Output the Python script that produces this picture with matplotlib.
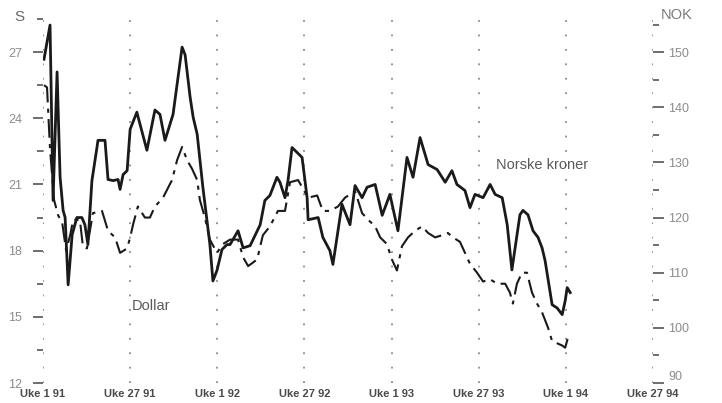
#!/usr/bin/env python3
"""
Dollar (S) vs norske kroner (NOK), weekly, 1991-1994
"""
import matplotlib
matplotlib.use('Agg')
import matplotlib.pyplot as plt

plt.rcParams['font.family'] = ['Liberation Sans Narrow', 'Liberation Sans', 'DejaVu Sans']

# x = weeks since Uke 1 91
week_labels = ['Uke 1 91', 'Uke 27 91', 'Uke 1 92', 'Uke 27 92',
               'Uke 1 93', 'Uke 27 93', 'Uke 1 94', 'Uke 27 94']
week_ticks = [0, 26, 52, 78, 104, 130, 156, 182]

nok_weeks = [0.3, 2.1, 3.0, 4.2, 5.1, 6.0, 6.6, 7.5, 8.7, 10.1, 11.6, 12.5, 13.4,
             14.6, 16.1, 16.4, 18.5, 19.4, 20.9, 22.4, 23.0, 23.9, 25.1, 26.0,
             28.0, 31.0, 33.4, 34.9, 36.4, 38.8, 41.5, 42.4, 43.9, 44.8, 46.0,
             47.7, 49.8, 50.7, 51.9, 53.4, 54.9, 55.8, 58.2, 59.7, 61.8, 64.8,
             66.2, 67.7, 69.8, 70.7, 72.2, 73.1, 74.3, 77.3, 78.8, 79.1, 82.1,
             83.5, 85.6, 86.5, 89.2, 91.6, 93.1, 95.2, 96.7, 99.1, 101.2, 103.5,
             105.9, 108.6, 110.4, 112.5, 114.9, 117.6, 120.0, 122.0, 123.5, 125.9,
             127.4, 128.9, 131.3, 133.4, 134.9, 137.0, 138.5, 139.9, 142.3, 143.2,
             144.7, 146.2, 147.7, 148.9, 149.8, 151.9, 153.4, 154.9, 155.8, 156.4,
             157.3]
nok_values = [148.7, 154.9, 123.1, 146.4, 127.3, 121.3, 120.0, 107.8, 116.9, 120.0,
              120.0, 118.7, 115.1, 126.7, 132.7, 134.0, 134.0, 126.9, 126.7, 126.9,
              125.1, 127.8, 128.5, 136.0, 139.1, 132.2, 139.5, 138.7, 134.0, 138.7,
              150.9, 149.5, 141.8, 138.2, 135.1, 125.5, 115.1, 108.5, 110.4, 114.2,
              115.1, 115.1, 117.6, 114.5, 114.9, 118.7, 123.1, 124.0, 127.3, 126.4,
              123.6, 126.7, 132.7, 130.9, 123.6, 119.6, 120.0, 116.4, 114.0, 111.5,
              122.4, 118.7, 125.8, 123.6, 125.5, 126.0, 120.4, 124.2, 117.6, 130.9,
              127.3, 134.5, 129.6, 128.7, 126.4, 128.5, 126.0, 124.9, 121.8, 124.2,
              123.6, 126.0, 124.2, 123.6, 118.7, 110.5, 120.5, 121.3, 120.5, 117.6,
              116.4, 114.5, 112.2, 104.2, 103.6, 102.4, 104.9, 107.3, 106.4]

usd_weeks = [0.3, 1.2, 2.1, 3.3, 4.5, 5.7, 6.9, 8.1, 9.0, 11.0, 11.9, 13.1, 14.9,
             17.6, 19.4, 21.5, 23.0, 25.1, 26.0, 26.9, 28.3, 30.4, 31.9, 33.4,
             35.8, 38.5, 40.0, 41.5, 43.0, 44.5, 46.0, 46.8, 48.3, 49.8, 51.9,
             53.7, 55.8, 58.2, 59.7, 61.2, 63.9, 65.6, 67.7, 70.1, 72.2, 73.7,
             76.1, 79.1, 81.8, 83.5, 85.6, 88.0, 90.1, 93.1, 95.2, 97.0, 99.1,
             100.6, 102.6, 104.1, 105.6, 107.1, 108.9, 111.0, 113.1, 114.9, 117.0,
             119.1, 120.8, 122.3, 124.4, 126.5, 127.4, 129.5, 131.3, 133.4, 135.5,
             137.9, 139.3, 140.2, 141.4, 142.9, 144.4, 145.9, 147.4, 148.9, 150.7,
             151.9, 153.4, 154.9, 155.8, 156.7]
usd_values = [25.5, 25.4, 22.6, 20.3, 19.6, 19.3, 18.0, 18.7, 19.4, 19.4, 18.2, 18.1,
              19.7, 19.8, 18.9, 18.6, 17.9, 18.1, 18.6, 19.2, 20.0, 19.5, 19.5, 20.0,
              20.4, 21.2, 22.1, 22.7, 22.1, 21.7, 21.2, 20.3, 19.5, 18.5, 17.9, 18.3,
              18.5, 18.5, 17.7, 17.3, 17.6, 18.7, 19.1, 19.8, 19.8, 21.1, 21.2, 20.4,
              20.5, 19.8, 19.8, 20.0, 20.4, 20.7, 19.7, 19.4, 19.1, 18.6, 18.3, 17.6,
              17.1, 18.2, 18.6, 18.9, 19.1, 18.8, 18.6, 18.7, 18.8, 18.6, 18.4, 17.7,
              17.4, 17.0, 16.6, 16.7, 16.5, 16.5, 16.1, 15.6, 16.5, 17.0, 17.0, 16.1,
              15.6, 15.2, 14.5, 13.9, 13.8, 13.7, 13.6, 14.1]

usd_ticks = [12, 15, 18, 21, 24, 27]
usd_minor = [13.5, 16.5, 19.5, 22.5, 25.5, 28.5]
nok_ticks = [90, 100, 110, 120, 130, 140, 150]
nok_minor = [95, 105, 115, 125, 135, 145, 155]


def make_chart():
    fig = plt.figure(figsize=(7.22, 4.03), dpi=100)
    ax = fig.add_axes([43 / 722, 20 / 403, 610 / 722, 364 / 403])
    ax2 = ax.twinx()

    ax.set_xlim(0, 182)
    ax.set_ylim(12, 28.5)
    ax2.set_ylim(90, 156)

    for a in (ax, ax2):
        for s in a.spines.values():
            s.set_visible(False)

    # dotted verticals at every half year
    for w in week_ticks:
        ax.axvline(w, color='#8a8a8a', linestyle=(0, (1, 7)), linewidth=1.3, zorder=1)

    ax.plot(usd_weeks, usd_values, color='#1a1a1a', linewidth=1.5,
            linestyle=(0, (9, 3, 2, 3)), zorder=3)
    ax2.plot(nok_weeks, nok_values, color='#1a1a1a', linewidth=2.0, zorder=3)

    # left axis
    ax.set_yticks(usd_ticks)
    ax.set_yticks(usd_minor, minor=True)
    ax.tick_params(axis='y', which='major', length=7, width=1.2, color='#555555',
                   labelsize=9, labelcolor='#8c8c8c', pad=8)
    ax.tick_params(axis='y', which='minor', length=4, width=1.2, color='#555555')
    ax.set_yticklabels([str(t) for t in usd_ticks])

    # right axis
    ax2.set_yticks(nok_ticks)
    ax2.set_yticks(nok_minor, minor=True)
    ax2.tick_params(axis='y', which='major', length=8, width=1.2, color='#555555',
                    labelsize=9, labelcolor='#8c8c8c', pad=3, direction='out')
    ax2.tick_params(axis='y', which='minor', length=4, width=1.2, color='#555555')
    # lift the bottom NOK label a little so it clears the week label
    ax2.get_yticklabels()[0].set_verticalalignment('bottom')

    # bottom labels
    ax.set_xticks(week_ticks)
    ax.set_xticklabels(week_labels)
    ax.tick_params(axis='x', length=0, labelsize=8, labelcolor='#4a4a4a', pad=4)
    for lbl in ax.get_xticklabels():
        lbl.set_fontweight('bold')

    fig.text(14 / 722, 1 - 17 / 403, 'S', fontsize=11, color='#6a6a6a',
             va='center', ha='left')
    fig.text(661 / 722, 1 - 15 / 403, 'NOK', fontsize=10.5, color='#7a7a7a',
             va='center', ha='left')

    ax.text(135.2, 21.9, 'Norske kroner', fontsize=10.5, color='#5a5a5a',
            va='center', ha='left')
    ax.text(26.6, 15.5, 'Dollar', fontsize=10.5, color='#5a5a5a',
            va='center', ha='left')

    fig.savefig('out.png', dpi=100, facecolor='white')
    plt.close(fig)


if __name__ == '__main__':
    make_chart()
